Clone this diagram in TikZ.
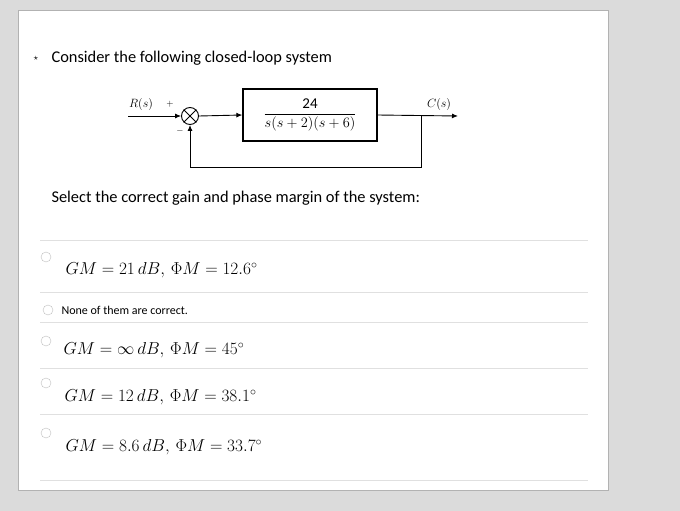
\documentclass[tikz,border=0pt]{standalone}
\usepackage{fontspec}
\setmainfont{Carlito}
\usepackage{amsmath}
\usetikzlibrary{arrows.meta}
\begin{document}
\begin{tikzpicture}[x=1pt,y=-1pt,
  sig/.style={-{Latex[length=6pt,width=5pt]},line width=0.9pt},
  ln/.style={line width=0.9pt},
  sep/.style={draw=black!12,line width=0.6pt},
  radio/.style={circle,draw=black!25,fill=white,minimum size=10pt,inner sep=0pt},
  opt/.style={anchor=west,font=\fontsize{17.8}{21}\selectfont}]
\useasboundingbox (0,0) rectangle (680,511);
\fill[black!14] (0,0) rectangle (680,511);
\draw[black!30,fill=white] (18,10) rectangle (608,490);
\node[anchor=west,font=\fontsize{16.4}{20}\selectfont] (q) at (48,58) {Consider the following closed-loop system};
\node[font=\small] (star) at (36,58) {$\star$};
% block diagram
\node[circle,draw,line width=0.9pt,minimum size=17pt,inner sep=0pt] (sum) at (190,116) {};
\draw[line width=0.9pt] (sum.north west)--(sum.south east) (sum.north east)--(sum.south west);
\node[draw,line width=1.3pt,minimum width=134pt,minimum height=52pt] (G) at (310,115)
  {\fontsize{15}{18}\selectfont$\dfrac{\text{24}}{s(s+2)(s+6)}$};
\coordinate (Rin) at (128,116);
\coordinate (Cout) at (458,116);
\coordinate (br) at (421,116);
\coordinate (fb1) at (421,167);
\coordinate (fb2) at (190,167);
\draw[sig] (Rin)--(sum.west);
\draw[sig] (sum.east)--(G.west);
\draw[sig] (G.east)--(Cout);
\draw[ln] (br)--(fb1)--(fb2);
\draw[sig] (fb2)--(sum.south);
\node[font=\fontsize{12}{14}\selectfont] (Rl) at (141,104) {$R(s)$};
\node[font=\fontsize{12}{14}\selectfont] (Cl) at (439,104) {$C(s)$};
\node[font=\small] (pl) at (170,104) {$+$};
\node[font=\small] (mi) at (180,131) {$-$};
\node[anchor=west,font=\fontsize{16.4}{20}\selectfont] (sel) at (48,198) {Select the correct gain and phase margin of the system:};
% options
\draw[sep] (40,240)--(588,240);
\draw[sep] (40,292)--(588,292);
\draw[sep] (40,322)--(588,322);
\draw[sep] (40,368)--(588,368);
\draw[sep] (40,414)--(588,414);
\draw[sep] (40,480)--(588,480);
\node[radio] (r1) at (46,257) {};
\node[radio] (r2) at (48,310) {};
\node[radio] (r3) at (46,341) {};
\node[radio] (r4) at (46,383) {};
\node[radio] (r5) at (46,433) {};
\node[opt] (o1) at (62,270) {$GM = 21\,dB,\,\Phi M = 12.6^{\circ}$};
\node[anchor=west,font=\fontsize{12}{14}\selectfont] (o2) at (58,310) {None of them are correct.};
\node[opt] (o3) at (60,350) {$GM = \infty\,dB,\,\Phi M = 45^{\circ}$};
\node[opt] (o4) at (61,397) {$GM = 12\,dB,\,\Phi M = 38.1^{\circ}$};
\node[opt] (o5) at (62,447) {$GM = 8.6\,dB,\,\Phi M = 33.7^{\circ}$};
\end{tikzpicture}
\end{document}
